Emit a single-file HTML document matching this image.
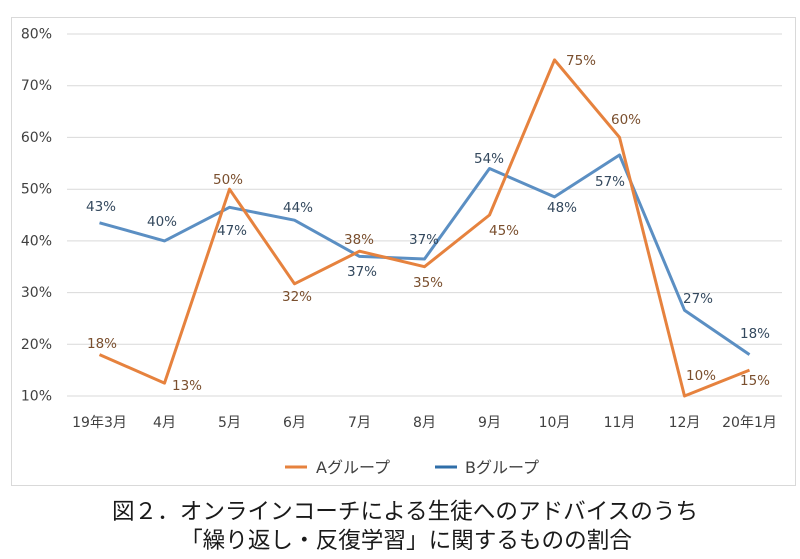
<!DOCTYPE html>
<html><head><meta charset="utf-8"><style>
html,body{margin:0;padding:0;background:#fff;}
svg{display:block;}
.t{font-family:"DejaVu Sans","Noto Sans CJK JP",sans-serif;}
</style></head><body>
<svg width="800" height="559" viewBox="0 0 800 559" xmlns="http://www.w3.org/2000/svg">
<rect x="0" y="0" width="800" height="559" fill="#fff"/>
<rect x="11.5" y="17.5" width="784" height="468" fill="#fff" stroke="#d9d9d9" stroke-width="1"/>
<g stroke="#d9d9d9" stroke-width="1">
<line x1="67" y1="34" x2="782" y2="34"/>
<line x1="67" y1="85.7" x2="782" y2="85.7"/>
<line x1="67" y1="137.4" x2="782" y2="137.4"/>
<line x1="67" y1="189.2" x2="782" y2="189.2"/>
<line x1="67" y1="240.9" x2="782" y2="240.9"/>
<line x1="67" y1="292.6" x2="782" y2="292.6"/>
<line x1="67" y1="344.3" x2="782" y2="344.3"/>
<line x1="67" y1="396" x2="782" y2="396"/>
</g>
<g class="t" font-size="14" fill="#404040" text-anchor="end">
<text x="52" y="38.5">80%</text>
<text x="52" y="90.2">70%</text>
<text x="52" y="141.9">60%</text>
<text x="52" y="193.7">50%</text>
<text x="52" y="245.4">40%</text>
<text x="52" y="297.1">30%</text>
<text x="52" y="348.8">20%</text>
<text x="52" y="400.5">10%</text>
</g>
<g class="t" font-size="14" fill="#404040" text-anchor="middle">
<text x="99.5" y="427">19年3月</text>
<text x="164.5" y="427">4月</text>
<text x="229.5" y="427">5月</text>
<text x="294.5" y="427">6月</text>
<text x="359.5" y="427">7月</text>
<text x="424.5" y="427">8月</text>
<text x="489.5" y="427">9月</text>
<text x="554.5" y="427">10月</text>
<text x="619.5" y="427">11月</text>
<text x="684.5" y="427">12月</text>
<text x="749.5" y="427">20年1月</text>
</g>
<polyline fill="none" stroke="#5b8fc3" stroke-width="3" stroke-linejoin="round"
 points="99.5,222.8 164.5,240.9 229.5,207.3 294.5,220.2 359.5,256.4 424.5,259 489.5,168.5 554.5,196.9 619.5,155 684.5,310.2 749.5,354.6"/>
<polyline fill="none" stroke="#e6823e" stroke-width="3" stroke-linejoin="round"
 points="99.5,354.6 164.5,383.1 229.5,189.2 294.5,283.8 359.5,251.2 424.5,266.7 489.5,215 554.5,59.9 619.5,137.4 684.5,396 749.5,370.1"/>
<g class="t" font-size="13.5" fill="#7a4f2e" text-anchor="middle">
<text x="102" y="348">18%</text>
<text x="187" y="390">13%</text>
<text x="228" y="184">50%</text>
<text x="297" y="301">32%</text>
<text x="359" y="244">38%</text>
<text x="428" y="287">35%</text>
<text x="504" y="235">45%</text>
<text x="581" y="65">75%</text>
<text x="626" y="124">60%</text>
<text x="701" y="380">10%</text>
<text x="755" y="385">15%</text>
</g>
<g class="t" font-size="13.5" fill="#34495e" text-anchor="middle">
<text x="101" y="211">43%</text>
<text x="162" y="226">40%</text>
<text x="232" y="235">47%</text>
<text x="298" y="212">44%</text>
<text x="362" y="276">37%</text>
<text x="424" y="244">37%</text>
<text x="489" y="163">54%</text>
<text x="562" y="212">48%</text>
<text x="610" y="186">57%</text>
<text x="698" y="303">27%</text>
<text x="755" y="338">18%</text>
</g>
<line x1="285" y1="467" x2="307" y2="467" stroke="#e6823e" stroke-width="3"/>
<text class="t" x="316" y="473" font-size="16" fill="#404040">Aグループ</text>
<line x1="435" y1="467" x2="457" y2="467" stroke="#2f6ea8" stroke-width="3"/>
<text class="t" x="465" y="473" font-size="16" fill="#404040">Bグループ</text>
<g font-family="'Noto Sans CJK JP',sans-serif" font-size="22.6" fill="#1a1a1a" text-anchor="middle">
<text x="405" y="519">図２．オンラインコーチによる生徒へのアドバイスのうち</text>
<text x="406" y="548">「繰り返し・反復学習」に関するものの割合</text>
</g>
</svg>
</body></html>
